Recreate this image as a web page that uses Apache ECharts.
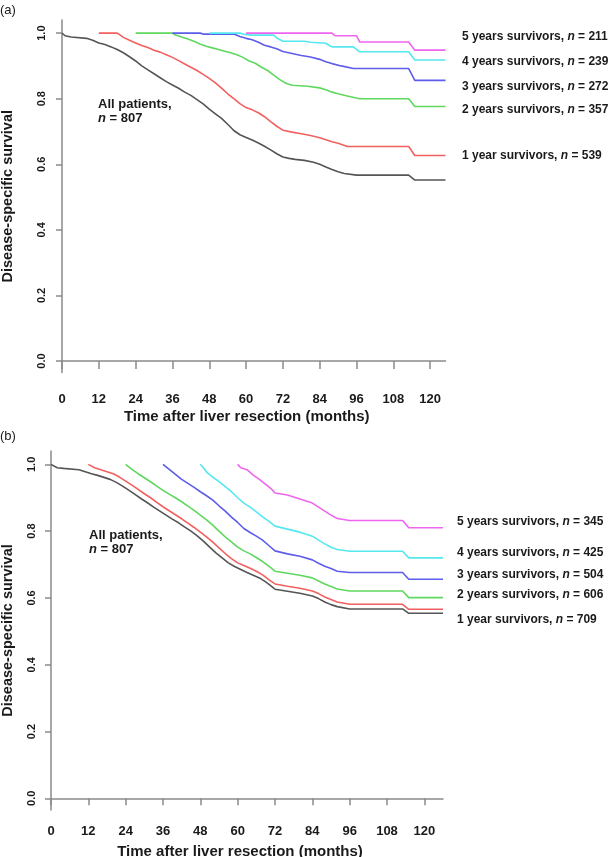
<!DOCTYPE html>
<html><head><meta charset="utf-8">
<script src="https://cdn.jsdelivr.net/npm/echarts@6/dist/echarts.min.js"></script>
<style>html,body{margin:0;padding:0;background:#fff}#c{width:609px;height:857px}</style>
</head><body><div id="c"></div>
<script>
// ---------- data ----------
const xTicks = [0, 12, 24, 36, 48, 60, 72, 84, 96, 108, 120];
const yTicks = [0, 0.2, 0.4, 0.6, 0.8, 1.0];
const survivorYears = ['1 year', '2 years', '3 years', '4 years', '5 years'];
const nPanelA = [539, 357, 272, 239, 211];
const nPanelB = [709, 606, 504, 425, 345];
const nAll = 807;
const panelLetters = ['(a)', '(b)'];

// Panel (a): [months, disease-specific survival]
const a_all = [[0,1.0],[1,0.992],[3,0.988],[8,0.984],[10,0.978],[12,0.97],[14,0.965],[16,0.958],[18,0.95],[20,0.94],[22,0.928],[24,0.915],[26,0.9],[28,0.888],[30,0.876],[32,0.864],[34,0.852],[36,0.842],[38,0.832],[40,0.82],[42,0.81],[44,0.797],[46,0.784],[48,0.768],[50,0.754],[52,0.74],[54,0.722],[56,0.703],[58,0.69],[60,0.682],[62,0.674],[64,0.665],[66,0.655],[68,0.644],[70,0.632],[72,0.622],[74,0.618],[76,0.615],[79,0.612],[82,0.606],[84,0.6],[86,0.592],[88,0.584],[90,0.577],[92,0.572],[96,0.567],[113,0.567],[115,0.552],[125,0.552]];
const a_1y = [[12,1.0],[18,1.0],[19,0.994],[20,0.987],[22,0.978],[24,0.97],[26,0.962],[28,0.956],[30,0.948],[32,0.942],[34,0.934],[36,0.926],[38,0.916],[40,0.906],[42,0.896],[44,0.886],[46,0.874],[48,0.862],[50,0.848],[52,0.832],[54,0.815],[56,0.8],[58,0.785],[60,0.773],[62,0.766],[64,0.757],[66,0.745],[68,0.73],[70,0.716],[72,0.704],[75,0.698],[78,0.693],[81,0.688],[84,0.681],[86,0.675],[88,0.669],[90,0.664],[93,0.654],[113,0.654],[115,0.627],[125,0.627]];
const a_2y = [[24,1.0],[36,1.0],[37,0.994],[39,0.988],[41,0.982],[43,0.975],[45,0.967],[47,0.96],[49,0.955],[51,0.95],[53,0.945],[55,0.94],[57,0.934],[59,0.926],[61,0.915],[63,0.908],[65,0.896],[67,0.886],[69,0.872],[71,0.858],[73,0.847],[75,0.841],[80,0.838],[84,0.833],[86,0.827],[88,0.82],[90,0.815],[93,0.808],[97,0.8],[113,0.8],[115,0.776],[125,0.776]];
const a_3y = [[36,1.0],[45,1.0],[46,0.997],[56,0.997],[58,0.99],[60,0.984],[62,0.98],[64,0.972],[66,0.963],[68,0.958],[70,0.952],[72,0.944],[75,0.938],[78,0.932],[81,0.927],[84,0.92],[86,0.913],[88,0.907],[91,0.9],[95,0.892],[113,0.892],[115,0.856],[125,0.856]];
const a_4y = [[48,1.0],[58,1.0],[59,0.997],[61,0.994],[69,0.994],[70,0.985],[72,0.975],[79,0.975],[81,0.972],[86,0.969],[87,0.963],[88,0.958],[95,0.958],[97,0.943],[113,0.943],[115,0.918],[125,0.918]];
const a_5y = [[60,1.0],[88,1.0],[89,0.992],[96,0.992],[97,0.973],[113,0.973],[115,0.948],[125,0.948]];

// Panel (b)
const b_all = [[0,1.0],[2,0.99],[4,0.988],[9,0.984],[11,0.978],[13,0.972],[15,0.967],[17,0.961],[19,0.955],[21,0.946],[23,0.935],[25,0.923],[27,0.91],[29,0.897],[31,0.885],[33,0.872],[35,0.86],[37,0.848],[39,0.836],[41,0.825],[43,0.812],[45,0.8],[47,0.786],[49,0.77],[51,0.752],[53,0.735],[55,0.72],[57,0.705],[59,0.694],[61,0.685],[63,0.676],[65,0.668],[67,0.66],[69,0.648],[71,0.634],[72,0.626],[76,0.62],[80,0.614],[84,0.606],[86,0.598],[88,0.588],[90,0.58],[92,0.574],[96,0.567],[113,0.567],[115,0.554],[126,0.554]];
const b_1y = [[12,1.0],[14,0.99],[16,0.984],[18,0.978],[20,0.972],[22,0.962],[24,0.95],[26,0.938],[28,0.925],[30,0.912],[32,0.9],[34,0.886],[36,0.873],[38,0.861],[40,0.849],[42,0.837],[44,0.824],[46,0.811],[48,0.797],[50,0.783],[52,0.767],[54,0.75],[56,0.733],[58,0.718],[60,0.705],[62,0.697],[64,0.689],[66,0.68],[68,0.669],[70,0.655],[72,0.642],[76,0.635],[80,0.629],[84,0.621],[86,0.613],[88,0.603],[90,0.595],[92,0.588],[96,0.581],[113,0.581],[115,0.566],[126,0.566]];
const b_2y = [[24,1.0],[26,0.985],[28,0.972],[30,0.96],[32,0.948],[34,0.935],[36,0.922],[38,0.911],[40,0.9],[42,0.888],[44,0.875],[46,0.862],[48,0.848],[50,0.834],[52,0.818],[54,0.8],[56,0.783],[58,0.768],[60,0.752],[62,0.741],[64,0.732],[66,0.721],[68,0.709],[70,0.695],[72,0.68],[76,0.674],[80,0.668],[84,0.66],[86,0.651],[88,0.642],[90,0.634],[92,0.627],[96,0.621],[113,0.621],[115,0.601],[126,0.601]];
const b_3y = [[36,1.0],[38,0.985],[40,0.97],[42,0.955],[44,0.943],[46,0.931],[48,0.918],[50,0.906],[52,0.893],[54,0.876],[56,0.86],[58,0.842],[60,0.826],[62,0.808],[64,0.796],[66,0.785],[68,0.773],[70,0.757],[72,0.741],[76,0.732],[80,0.725],[84,0.714],[86,0.704],[88,0.695],[90,0.688],[92,0.68],[96,0.676],[113,0.676],[115,0.656],[126,0.656]];
const b_4y = [[48,1.0],[49,0.99],[50,0.977],[52,0.962],[54,0.948],[56,0.933],[58,0.918],[60,0.9],[62,0.884],[64,0.872],[66,0.858],[68,0.843],[70,0.83],[72,0.815],[76,0.806],[80,0.797],[84,0.785],[86,0.773],[88,0.762],[90,0.752],[92,0.745],[96,0.74],[113,0.74],[115,0.72],[126,0.72]];
const b_5y = [[60,1.0],[61,0.99],[63,0.984],[65,0.968],[67,0.955],[69,0.94],[71,0.925],[72,0.914],[76,0.908],[78,0.902],[80,0.896],[82,0.89],[84,0.884],[86,0.872],[88,0.86],[90,0.848],[92,0.838],[96,0.832],[113,0.832],[115,0.81],[126,0.81]];

// ---------- styling / layout ----------
const FONT = '"Liberation Sans", Arial, Helvetica, sans-serif';
const colors = ['#555555', '#f26060', '#5fd85f', '#5d5dea', '#55e8ee', '#ee66ee'];
const axisColor = '#8a8a8a';
const textColor = '#1a1a1a';

const panels = [
  { curves: [a_all, a_1y, a_2y, a_3y, a_4y, a_5y], n: nPanelA,
    grid: { left: 62, top: 20, width: 383.5, height: 352.5 }, xMax: 125,
    xLabMargin: 20, xTickLen: 8, yLabMargin: 15, xNameGap: 37, yNameGap: 47,
    labelX: 462, labelY: [155.6, 110, 86.7, 62, 36.7],
    allX: 98, allY: 111, letterY: 10 },
  { curves: [b_all, b_1y, b_2y, b_3y, b_4y, b_5y], n: nPanelB,
    grid: { left: 51, top: 451, width: 392, height: 359 }, xMax: 126,
    xLabMargin: 14.5, xTickLen: 7, yLabMargin: 14, xNameGap: 34.5, yNameGap: 36,
    labelX: 457, labelY: [619.3, 595, 574.7, 552.3, 521.7],
    allX: 89, allY: 542, letterY: 436 }
];

const grids = [], xAxes = [], yAxes = [], series = [], graphics = [];
panels.forEach((p, i) => {
  grids.push(Object.assign({ containLabel: false, outerBoundsMode: 'none' }, p.grid));
  xAxes.push({
    type: 'value', gridIndex: i, min: 0, max: p.xMax,
    axisLine: { show: true, lineStyle: { color: axisColor, width: 1.5 } },
    axisTick: { show: true, customValues: xTicks, length: p.xTickLen, lineStyle: { color: axisColor, width: 1.5 } },
    axisLabel: { customValues: xTicks, margin: p.xLabMargin, color: textColor, fontFamily: FONT, fontWeight: 'bold', fontSize: 13 },
    splitLine: { show: false },
    name: 'Time after liver resection (months)', nameLocation: 'middle', nameGap: p.xNameGap,
    nameTextStyle: { color: textColor, fontFamily: FONT, fontWeight: 'bold', fontSize: 15, padding: [0, 14, 0, 0] }
  });
  yAxes.push({
    type: 'value', gridIndex: i, min: -0.035, max: 1.04,
    axisLine: { show: true, lineStyle: { color: axisColor, width: 1.5 } },
    axisTick: { show: true, customValues: yTicks, length: 6, lineStyle: { color: axisColor, width: 1.5 } },
    axisLabel: { customValues: yTicks, rotate: 90, margin: p.yLabMargin, color: textColor, fontFamily: FONT, fontWeight: 'bold', fontSize: 11,
      formatter: v => v.toFixed(1) },
    splitLine: { show: false },
    name: 'Disease-specific survival', nameLocation: 'middle', nameRotate: 90, nameGap: p.yNameGap,
    nameTextStyle: { color: textColor, fontFamily: FONT, fontWeight: 'bold', fontSize: 14.5 }
  });
  p.curves.forEach((d, k) => {
    series.push({
      type: 'line', xAxisIndex: i, yAxisIndex: i, data: d,
      showSymbol: false, symbol: 'none', silent: true,
      lineStyle: { color: colors[k], width: 1.6 }, z: 2 + k
    });
  });
  survivorYears.forEach((yr, k) => {
    graphics.push({ type: 'text', x: p.labelX, y: p.labelY[k], silent: true,
      style: { text: yr + ' survivors, {i|n} = ' + p.n[k], fill: textColor,
        font: 'bold 12px ' + FONT, textVerticalAlign: 'middle',
        rich: { i: { fontStyle: 'italic', fontWeight: 'bold', fontSize: 12, fontFamily: FONT, fill: textColor } } } });
  });
  graphics.push({ type: 'text', x: p.allX, y: p.allY, silent: true,
    style: { text: 'All patients,\n{i|n} = ' + nAll, fill: textColor, font: 'bold 13px ' + FONT,
      textVerticalAlign: 'middle', lineHeight: 14,
      rich: { i: { fontStyle: 'italic', fontWeight: 'bold', fontSize: 13, fontFamily: FONT, fill: textColor } } } });
  graphics.push({ type: 'text', x: 0, y: p.letterY, silent: true,
    style: { text: panelLetters[i], fill: textColor, font: '13px ' + FONT, textVerticalAlign: 'middle' } });
});

const chart = echarts.init(document.getElementById('c'), null, { renderer: 'canvas' });
chart.setOption({
  animation: false, backgroundColor: '#ffffff',
  grid: grids, xAxis: xAxes, yAxis: yAxes, series: series, graphic: graphics
});
</script></body></html>
